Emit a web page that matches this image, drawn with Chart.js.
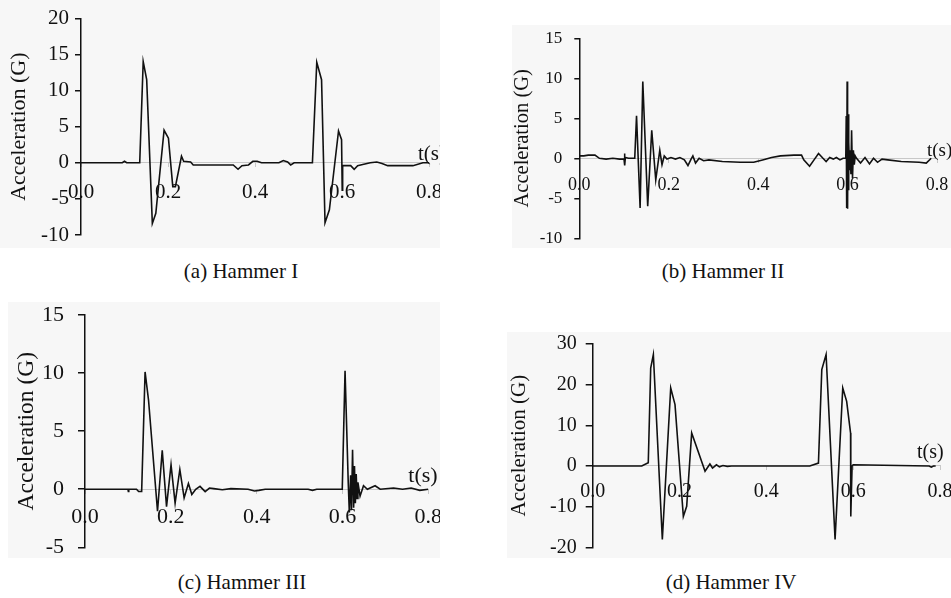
<!DOCTYPE html>
<html><head><meta charset="utf-8">
<script src="https://cdn.jsdelivr.net/npm/chart.js@4.4.0/dist/chart.umd.min.js"></script>
<style>
body{margin:0;width:951px;height:598px;background:#fff;position:relative;overflow:hidden;font-family:"Liberation Serif","Times New Roman",serif;}
.bg{position:absolute;background:#f7f7f7;}
.cv{position:absolute;}
.cap{position:absolute;font-size:21px;color:#111;transform:translate(-50%,-50%);white-space:nowrap;}
</style></head><body>
<div class="bg" style="left:0;top:0;width:440px;height:248px"></div>
<div class="bg" style="left:512px;top:25px;width:439px;height:223px"></div>
<div class="bg" style="left:8px;top:302px;width:432px;height:256px"></div>
<div class="bg" style="left:507px;top:332px;width:444px;height:226px"></div>
<canvas id="ca" class="cv" style="left:0;top:0" width="440" height="250"></canvas>
<canvas id="cb" class="cv" style="left:480px;top:0" width="471" height="255"></canvas>
<canvas id="cc" class="cv" style="left:0;top:290px" width="440" height="270"></canvas>
<canvas id="cd" class="cv" style="left:480px;top:290px" width="471" height="270"></canvas>
<div class="cap" style="left:241px;top:271px">(a) Hammer I</div>
<div class="cap" style="left:723px;top:271px">(b) Hammer II</div>
<div class="cap" style="left:242px;top:582px">(c) Hammer III</div>
<div class="cap" style="left:731px;top:582px">(d) Hammer IV</div>
<script>
// ---- data ----
const xTicks = [0, 0.2, 0.4, 0.6, 0.8];
const yTicksA = [-10, -5, 0, 5, 10, 15, 20];
const yTicksB = [-10, -5, 0, 5, 10, 15];
const yTicksC = [-5, 0, 5, 10, 15];
const yTicksD = [-20, -10, 0, 10, 20, 30];
const yTitle = 'Acceleration (G)';
const xUnit = 't(s)';

const tA = [0,0.095,0.100,0.105,0.135,0.143,0.151,0.164,0.172,0.191,0.201,0.211,0.217,0.231,0.236,0.252,0.258,0.350,0.361,0.370,0.385,0.395,0.405,0.415,0.455,0.465,0.475,0.482,0.490,0.532,0.542,0.553,0.561,0.571,0.592,0.599,0.6005,0.6015,0.620,0.628,0.636,0.650,0.665,0.680,0.692,0.705,0.763,0.786,0.800];
const gA = [0,0,0.2,0,0,14.0,11.5,-8.4,-7.0,4.5,3.4,-3.3,-3.3,0.9,0.2,0.1,-0.3,-0.3,-0.9,-0.4,-0.3,0.2,0.2,0.0,0.0,0.3,0.1,-0.3,0.0,0.0,13.9,11.5,-8.3,-6.5,4.4,3.2,-3.8,-0.4,-0.4,-0.9,-0.4,-0.2,0.0,0.1,-0.1,-0.4,-0.4,0.0,0.0];

const tB = [0,0.010,0.020,0.035,0.045,0.060,0.075,0.090,0.100,0.101,0.102,0.103,0.110,0.124,0.128,0.136,0.142,0.153,0.162,0.171,0.180,0.185,0.190,0.196,0.205,0.215,0.225,0.235,0.243,0.250,0.254,0.260,0.268,0.278,0.290,0.320,0.360,0.390,0.410,0.430,0.450,0.480,0.497,0.502,0.515,0.525,0.535,0.545,0.552,0.560,0.568,0.575,0.583,0.590,0.596,0.597,0.598,0.599,0.600,0.601,0.602,0.603,0.6045,0.606,0.6075,0.609,0.611,0.613,0.615,0.617,0.620,0.629,0.639,0.649,0.658,0.667,0.677,0.690,0.720,0.760,0.776,0.787];
const gB = [0.3,0.3,0.4,0.4,0.0,-0.1,0.0,-0.1,-0.1,0.6,-0.9,0.1,0.0,0.0,5.3,-6.2,9.6,-6.0,3.5,-2.7,1.0,-0.8,0.3,-0.1,0.1,-0.1,0.1,-0.2,-0.9,-0.1,0.3,-0.6,0.0,-0.3,-0.2,-0.4,-0.5,-0.5,-0.2,0.1,0.3,0.4,0.4,-0.2,-1.0,-0.2,0.6,0.0,-0.4,0.1,-0.1,0.1,-0.2,0.0,0.0,5.3,-6.2,9.6,-6.3,5.5,-4.0,2.0,-1.5,1.0,-2.0,3.5,-2.5,1.0,-0.8,0.3,0.0,-0.6,0.1,-0.7,0.0,-0.5,-0.1,-0.2,-0.4,-0.5,-0.6,0.0];

const tC = [0,0.100,0.101,0.102,0.120,0.125,0.132,0.140,0.148,0.169,0.180,0.190,0.2005,0.210,0.221,0.231,0.241,0.249,0.258,0.268,0.280,0.290,0.300,0.320,0.340,0.380,0.395,0.405,0.420,0.520,0.530,0.540,0.5995,0.606,0.6135,0.616,0.619,0.621,0.6235,0.626,0.628,0.630,0.632,0.634,0.636,0.641,0.649,0.658,0.676,0.688,0.719,0.740,0.760,0.780,0.800];
const gC = [0,0,-0.2,0,0,-0.2,-0.2,10.1,7.7,-1.9,3.35,-1.5,2.1,-1.2,1.7,-0.75,0.5,-0.45,0.0,0.25,-0.2,0.1,0.05,-0.05,0.05,0.0,-0.15,-0.1,0.0,0.0,-0.1,0.0,0.0,10.2,0.5,-2.0,1.2,-1.8,3.4,-1.6,2.0,-1.2,1.3,-0.8,0.6,-0.6,0.3,0.0,0.3,0.0,0.1,0.0,0.1,-0.1,0.0];

const tD = [0,0.113,0.128,0.1336,0.1397,0.1604,0.1797,0.1896,0.2088,0.2165,0.228,0.2588,0.270,0.276,0.285,0.292,0.300,0.310,0.320,0.500,0.520,0.5277,0.5376,0.5583,0.576,0.585,0.5940,0.5945,0.5975,0.600,0.775,0.780,0.785,0.790];
const gD = [0,0,0.8,24.1,27.4,-18.1,19.2,15.1,-12.4,-9.9,8.1,-1.3,0.5,-0.5,0.3,-0.2,0.1,-0.1,0.0,0.0,0.7,23.7,27.4,-18.1,19.2,15.9,8.1,-12.4,0.0,0.3,0.0,-0.3,0.0,0.0];

// ---- drawing ----
const SERIF = '"Liberation Serif", "Times New Roman", serif';
const unitLabel = {
  id: 'unitLabel',
  afterDraw(chart, args, o) {
    const {ctx, chartArea, scales} = chart;
    ctx.save();
    ctx.font = o.size + 'px ' + SERIF;
    ctx.fillStyle = '#111';
    ctx.textAlign = 'left';
    ctx.textBaseline = 'alphabetic';
    ctx.fillText(xUnit, chartArea.right + o.dx, scales.y.getPixelForValue(0) + o.dy);
    ctx.restore();
  }
};

function makeChart(id, t, g, yTicks, c) {
  const canvas = document.getElementById(id);
  const W = canvas.width, H = canvas.height;
  new Chart(canvas, {
    type: 'line',
    data: { datasets: [{ data: t.map((v, i) => ({x: v, y: g[i]})), borderColor: '#111', borderWidth: 1.6, pointRadius: 0, tension: 0, fill: false }] },
    options: {
      responsive: false, animation: false, events: [],
      layout: { padding: { left: 0, top: c.top, right: W - c.right, bottom: H - c.bottom } },
      plugins: { legend: {display: false}, tooltip: {enabled: false}, unitLabel: c.unit },
      scales: {
        x: {
          type: 'linear', min: 0, max: 0.8, position: {y: 0},
          afterBuildTicks: s => { s.ticks = xTicks.map(v => ({value: v})); },
          afterFit: s => { s.paddingLeft = 0; s.paddingRight = 0; },
          border: { color: '#c8c8c8', width: 1 },
          grid: { drawOnChartArea: false, drawTicks: true, tickLength: 4, color: '#c8c8c8' },
          ticks: { color: '#111', padding: c.xPad, font: { family: SERIF, size: c.xFont }, callback: v => v.toFixed(1), maxRotation: 0, autoSkip: false }
        },
        y: {
          type: 'linear', min: yTicks[0], max: yTicks[yTicks.length - 1], position: 'left',
          afterBuildTicks: s => { s.ticks = yTicks.map(v => ({value: v})); },
          afterFit: s => { s.width = c.left; s.paddingTop = 0; s.paddingBottom = 0; },
          border: { color: '#111', width: 1.5 },
          grid: { drawOnChartArea: false, drawTicks: true, tickLength: c.tl, color: '#111', lineWidth: 1.5 },
          ticks: { color: '#111', padding: c.yPad, font: { family: SERIF, size: c.yFont }, autoSkip: false },
          title: { display: true, text: yTitle, color: '#111', font: { family: SERIF, size: c.tFont, lineHeight: 1 }, padding: { top: c.tCenter - c.tFont / 2, bottom: 0 } }
        }
      }
    },
    plugins: [unitLabel]
  });
}

makeChart('ca', tA, gA, yTicksA, { left: 81, right: 429, top: 18.3, bottom: 235, tl: 6, yPad: 6, yFont: 21, xFont: 21, xPad: 13, tFont: 22, tCenter: 19, unit: { size: 21, dx: -11, dy: -3 } });
makeChart('cb', tB, gB, yTicksB, { left: 99.3, right: 457, top: 38.3, bottom: 238.3, tl: 5, yPad: 12, yFont: 17, xFont: 18, xPad: 12, tFont: 20.5, tCenter: 43, unit: { size: 19, dx: -10, dy: -2 } });
makeChart('cc', tC, gC, yTicksC, { left: 85, right: 428.3, top: 25, bottom: 257.3, tl: 7, yPad: 14, yFont: 22, xFont: 22, xPad: 11, tFont: 23.5, tCenter: 27, unit: { size: 22, dx: -20, dy: -7 } });
makeChart('cd', tD, gD, yTicksD, { left: 112.7, right: 460, top: 54, bottom: 257.3, tl: 7, yPad: 9, yFont: 20, xFont: 20, xPad: 10, tFont: 21, tCenter: 39, unit: { size: 20, dx: -23, dy: -8 } });
</script>
</body></html>
